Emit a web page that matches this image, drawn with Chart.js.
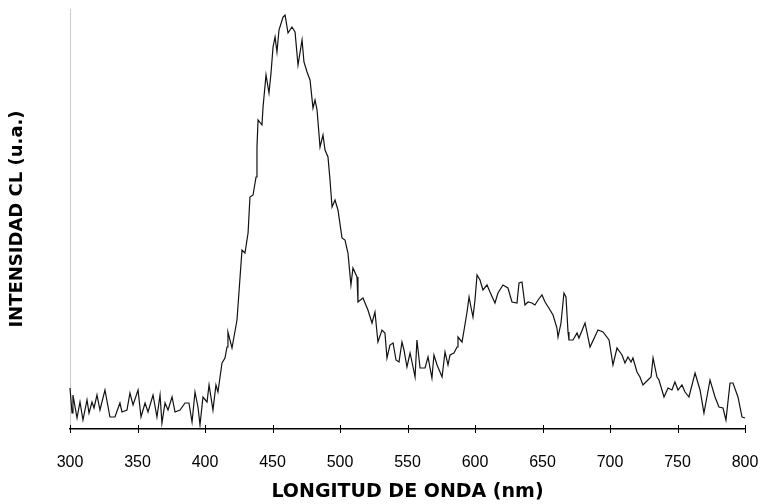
<!DOCTYPE html>
<html>
<head>
<meta charset="utf-8">
<script src="https://cdn.jsdelivr.net/npm/chart.js@4"></script>
<style>
  html, body { margin: 0; padding: 0; background: #fff; }
  #wrap { width: 763px; height: 504px; position: relative; }
</style>
</head>
<body>
<div id="wrap"><canvas id="spectrum"></canvas></div>
<script>
// --- Data ---
const wavelength = [
  300.0, 301.5, 302.2, 305.2, 307.4, 309.6, 312.6, 314.1, 316.3, 317.8,
  320.0, 322.2, 325.9, 329.6, 333.3, 337.0, 338.5, 342.2, 344.4, 346.7,
  350.4, 352.6, 355.6, 357.8, 361.5, 364.4, 366.7, 368.1, 370.4, 372.6,
  375.6, 377.8, 381.5, 385.2, 388.1, 390.4, 392.6, 394.8, 396.3, 398.5,
  401.5, 403.0, 405.9, 408.1, 409.6, 412.6, 414.8, 416.3, 417.0, 420.0,
  423.7, 427.4, 429.6, 431.9, 433.3, 435.6, 437.8, 438.5, 439.3, 442.2,
  443.0, 445.2, 447.4, 448.9, 450.4, 451.9, 453.3, 454.8, 457.8, 459.3,
  461.5, 464.4, 466.7, 468.9, 471.9, 473.3, 475.6, 477.8, 480.0, 481.5,
  483.0, 485.2, 487.4, 488.9, 491.1, 492.6, 494.1, 496.3, 498.5, 501.5,
  503.7, 505.9, 508.1, 509.6, 512.6, 513.3, 517.0, 520.7, 523.7, 525.9,
  528.1, 531.1, 533.3, 534.8, 537.0, 539.3, 541.5, 543.7, 545.9, 547.4,
  549.6, 551.9, 554.1, 555.6, 557.0, 559.3, 563.0, 565.2, 568.1, 569.6,
  571.9, 575.6, 577.8, 580.0, 581.5, 584.4, 586.7, 587.4, 590.4, 591.9,
  594.1, 595.6, 597.0, 598.5, 600.0, 601.5, 603.7, 605.9, 608.9, 611.1,
  614.8, 617.0, 620.7, 624.4, 627.4, 631.1, 632.6, 634.8, 637.0, 639.3,
  642.2, 644.4, 646.7, 649.6, 651.9, 655.6, 657.8, 660.7, 661.5, 663.7,
  665.9, 667.4, 668.9, 669.6, 672.6, 675.6, 677.0, 681.5, 685.2, 691.1,
  694.8, 699.3, 702.2, 705.2, 708.9, 711.1, 713.3, 715.6, 717.0, 720.0,
  722.2, 724.4, 728.1, 730.4, 731.9, 734.8, 736.3, 740.0, 743.0, 745.9,
  748.1, 750.4, 753.3, 755.6, 758.5, 763.0, 766.7, 769.6, 774.1, 777.8,
  780.7, 783.7, 785.9, 788.9, 791.1, 794.8, 797.8, 800.0, 802.2, 804.4
];
const intensity = [
  41, 16, 34, 11, 27, 9, 29, 16, 27, 21,
  34, 19, 39, 12, 12, 26, 17, 19, 36, 24,
  39, 12, 26, 17, 34, 12, 34, 6, 26, 19,
  32, 17, 19, 26, 26, 7, 37, 22, 4, 32,
  27, 44, 19, 44, 37, 66, 71, 82, 97, 81,
  109, 179, 176, 196, 232, 234, 252, 282, 309, 304,
  322, 354, 336, 356, 382, 392, 377, 399, 412, 414,
  396, 402, 397, 364, 389, 367, 357, 349, 321, 329,
  319, 282, 294, 279, 272, 249, 222, 229, 219, 191,
  189, 176, 144, 161, 152, 127, 131, 119, 106, 117,
  87, 99, 96, 71, 84, 86, 69, 67, 87, 79,
  62, 76, 62, 52, 89, 61, 61, 72, 51, 74,
  64, 52, 77, 64, 74, 76, 82, 92, 87, 99,
  117, 132, 122, 112, 129, 154, 149, 139, 144, 137,
  126, 136, 144, 141, 127, 126, 146, 147, 124, 127,
  126, 124, 129, 134, 127, 119, 114, 101, 92, 106,
  136, 132, 97, 89, 89, 96, 91, 106, 82, 99,
  97, 89, 64, 81, 74, 66, 72, 67, 71, 57,
  52, 44, 49, 52, 71, 52, 49, 32, 41, 39,
  47, 39, 44, 37, 32, 56, 39, 16, 49, 32,
  22, 21, 9, 46, 46, 32, 12, 11, 42, 44
];
const xTicks = [300, 350, 400, 450, 500, 550, 600, 650, 700, 750, 800];

const xTitle = 'LONGITUD DE ONDA (nm)';
const yTitle = 'INTENSIDAD CL (u.a.)';

// ticks crossing the x axis line (above and below)
const crossTicks = {
    id: 'crossTicks',
    afterDraw(chart) {
        const { ctx, scales: { x } } = chart;
        const yAxis = x.top;
        ctx.save();
        ctx.strokeStyle = '#000';
        ctx.lineWidth = 1;
        xTicks.forEach(v => {
            const px = Math.round(x.getPixelForValue(v)) + 0.5;
            ctx.beginPath();
            ctx.moveTo(px, yAxis - 4);
            ctx.lineTo(px, yAxis + 4);
            ctx.stroke();
        });
        ctx.restore();
    }
};

const ctx = document.getElementById('spectrum').getContext('2d');
new Chart(ctx, {
    type: 'line',
    data: {
        datasets: [{
            data: wavelength.map((w, i) => ({ x: w, y: intensity[i] })),
            borderColor: '#111',
            borderWidth: 1.2,
            pointRadius: 0,
            tension: 0,
            fill: false,
            clip: 8
        }]
    },
    options: {
        responsive: true,
        maintainAspectRatio: false,
        animation: false,
        layout: { padding: { top: 9, right: 0, left: 0, bottom: 0 } },
        plugins: {
            legend: { display: false },
            tooltip: { enabled: false }
        },
        scales: {
            x: {
                type: 'linear',
                min: 300,
                max: 800,
                afterBuildTicks: (scale) => { scale.ticks = xTicks.map(v => ({ value: v })); },
                afterFit: (scale) => {
                    scale.height = 75;
                    scale.paddingLeft = 0;
                    scale.paddingRight = 18;
                },
                grid: { display: false, drawTicks: false },
                border: { display: true, color: '#000', width: 1.5 },
                ticks: {
                    padding: 24,
                    color: '#000',
                    font: { family: 'Liberation Sans', size: 16 }
                },
                title: {
                    display: true,
                    text: xTitle,
                    color: '#000',
                    padding: { top: 1, bottom: 1 },
                    font: { family: 'DejaVu Sans', size: 19, weight: 'bold' }
                }
            },
            y: {
                min: 0,
                max: 420,
                afterFit: (scale) => { scale.width = 70; },
                grid: { display: false, drawTicks: false },
                border: { display: true, color: '#ccc', width: 1, dash: [2, 5] },
                ticks: { display: false },
                title: {
                    display: true,
                    text: yTitle,
                    color: '#000',
                    padding: { top: 7, bottom: 0 },
                    font: { family: 'DejaVu Sans', size: 18, weight: 'bold' }
                }
            }
        }
    },
    plugins: [crossTicks]
});
</script>
</body>
</html>
